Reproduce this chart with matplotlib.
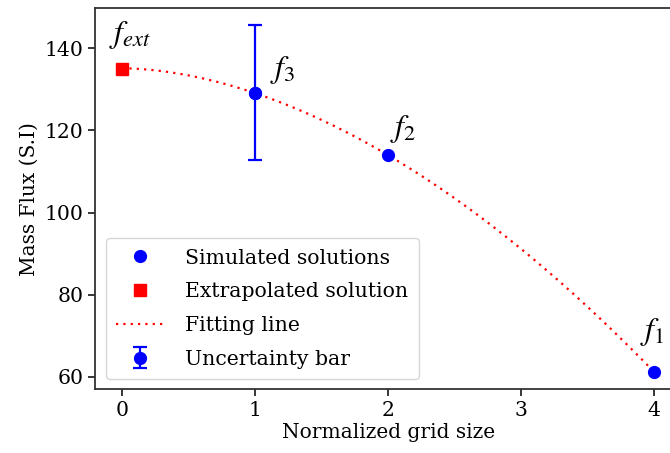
import numpy as np
import matplotlib
matplotlib.use("Agg")
import matplotlib.pyplot as plt
from matplotlib.lines import Line2D

plt.rcParams["font.family"] = "DejaVu Serif"
plt.rcParams["mathtext.fontset"] = "stix"

# simulated solutions (normalized grid size, mass flux)
grid_sizes = [1, 2, 4]
mass_flux = [129.1, 114.0, 61.2]
point_labels = [r"$f_3$", r"$f_2$", r"$f_1$"]

# extrapolated solution
ext_grid = [0]
ext_flux = [135.1]

# uncertainty bar on f3
err_grid = [1]
err_flux = [129.1]
err_low = [16.2]
err_high = [16.5]

# Richardson-type fit through the three solutions: f = f_ext - k * h^p
f1, f2, f3 = mass_flux[2], mass_flux[1], mass_flux[0]
p_order = np.log((f2 - f1) / (f3 - f2)) / np.log(2)
k_coef = (f3 - f2) / (2 ** p_order - 1)
f_ext = f3 + k_coef
h_fit = np.linspace(0, 4, 200)
flux_fit = f_ext - k_coef * h_fit ** p_order

fig = plt.figure(figsize=(6.70, 4.53), dpi=100)
ax = fig.add_axes([0.1425, 0.141, 0.8734, 0.841])

ax.plot(h_fit, flux_fit, color="red", linestyle=(0, (1, 2.3)), linewidth=1.6, zorder=2)
eb = ax.errorbar(err_grid, err_flux, yerr=[err_low, err_high], fmt="o", color="blue",
                 markersize=8.5, elinewidth=1.6, capsize=5, capthick=1.6, zorder=3)
ax.plot(grid_sizes, mass_flux, "o", color="blue", markersize=8.5, zorder=4)
ax.plot(ext_grid, ext_flux, "s", color="red", markersize=8, zorder=4)

# point labels
ax.annotate(r"$f_{ext}$", (ext_grid[0], ext_flux[0]), xytext=(6, 24),
            textcoords="offset points", ha="center", va="center", fontsize=23)
label_offsets = [(20, 17), (11, 19), (-1, 29)]
for x, y, lab, off in zip(grid_sizes, mass_flux, point_labels, label_offsets):
    ax.annotate(lab, (x, y), xytext=off, textcoords="offset points",
                ha="center", va="center", fontsize=23)

ax.set_xlim(-0.2, 4.2)
ax.set_ylim(57.0, 149.8)
ax.set_xticks([0, 1, 2, 3, 4])
ax.set_yticks([60, 80, 100, 120, 140])
ax.tick_params(labelsize=14.7, length=5, width=1.1)
for s in ax.spines.values():
    s.set_linewidth(1.3)
    s.set_color("#333333")
ax.spines["right"].set_visible(False)  # falls outside the cropped figure

ax.set_xlabel("Normalized grid size", fontsize=14.5, labelpad=2)
ax.set_ylabel("Mass Flux (S.I)", fontsize=14.5, labelpad=4)

handles = [
    Line2D([], [], marker="o", linestyle="none", color="blue", markersize=8.5),
    Line2D([], [], marker="s", linestyle="none", color="red", markersize=8),
    Line2D([], [], color="red", linestyle=(0, (1, 2.3)), linewidth=1.6),
    eb,
]
labels = ["Simulated solutions", "Extrapolated solution", "Fitting line", "Uncertainty bar"]
ax.legend(handles, labels, loc="lower left", fontsize=14.7, frameon=True,
          borderaxespad=0.5, borderpad=0.5, handlelength=2.4,
          handletextpad=1.0, labelspacing=0.72)

fig.savefig("out.png", dpi=100)
